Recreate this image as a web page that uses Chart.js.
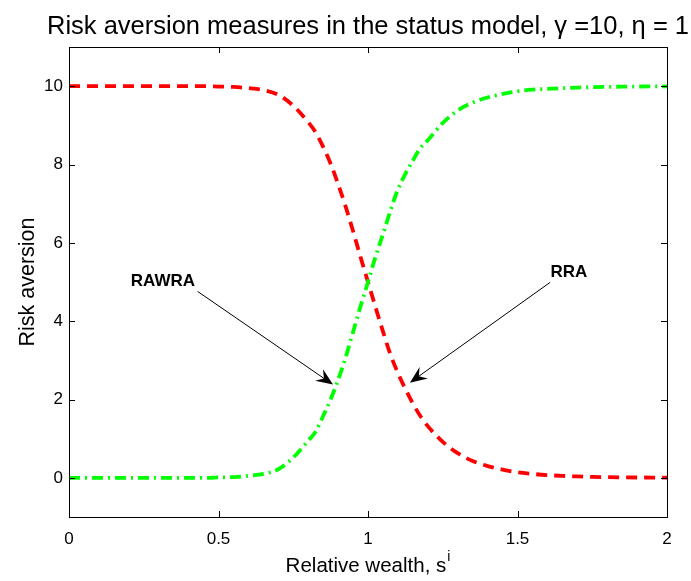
<!DOCTYPE html>
<html>
<head>
<meta charset="utf-8">
<script src="https://cdn.jsdelivr.net/npm/chart.js@4/dist/chart.umd.min.js"></script>
<style>
html,body{margin:0;padding:0;background:#fff;}
#wrap{width:691px;height:581px;}
</style>
</head>
<body>
<div id="wrap"><canvas id="c" width="691" height="581"></canvas></div>
<script>
// ---- data ----
const sValues = [0,0.05,0.1,0.15,0.2,0.25,0.3,0.35,0.4,0.45,0.5,0.55,0.6,0.65,0.7,0.75,0.8,0.825,0.85,0.875,0.9,0.925,0.95,0.975,1.0,1.025,1.05,1.075,1.1,1.125,1.15,1.175,1.2,1.25,1.3,1.35,1.4,1.45,1.5,1.55,1.6,1.65,1.7,1.75,1.8,1.85,1.9,1.95,2.0];
const rraValues = [10,10,10,10,10,10,10,10,10,10,9.99,9.98,9.95,9.90,9.78,9.50,9.08,8.82,8.45,8.02,7.50,6.93,6.30,5.64,5.00,4.36,3.74,3.15,2.68,2.27,1.90,1.58,1.32,0.92,0.63,0.43,0.30,0.21,0.14,0.10,0.07,0.05,0.035,0.025,0.018,0.013,0.009,0.007,0.005];
const rawraValues = [0,0,0,0,0,0,0,0,0,0,0.01,0.02,0.05,0.10,0.22,0.52,0.95,1.18,1.58,2.00,2.50,3.07,3.72,4.38,5.00,5.64,6.22,6.82,7.36,7.76,8.10,8.42,8.62,9.06,9.38,9.58,9.71,9.80,9.87,9.91,9.93,9.95,9.965,9.975,9.982,9.987,9.991,9.993,9.995];
const xTicks = [0,0.5,1,1.5,2];
const xTickLabels = ["0","0.5","1","1.5","2"];
const yTicks = [0,2,4,6,8,10];
const yTickLabels = ["0","2","4","6","8","10"];
const titleText = "Risk aversion measures in the status model, \u03b3 =10, \u03b7 = 1";
const xLabelText = "Relative wealth, s";
const xLabelSup = "i";
const yLabelText = "Risk aversion";
// annotations in data coordinates: label, text position, arrow start, arrow tip
const annLabels = ["RAWRA","RRA"];
const annTextPos = [[0.314,5.03],[1.672,5.24]];
const annArrowFrom = [[0.430,4.76],[1.609,4.99]];
const annArrowTo = [[0.883,2.38],[1.140,2.43]];

const FONT = "'Liberation Sans', Arial, Helvetica, sans-serif";

const framePlugin = {
  id: 'frame',
  afterDraw(chart) {
    const ctx = chart.ctx, a = chart.chartArea;
    const xs = chart.scales.x, ys = chart.scales.y;
    ctx.save();
    // box
    ctx.strokeStyle = '#000';
    ctx.lineWidth = 1;
    ctx.strokeRect(Math.round(a.left)+0.5, Math.round(a.top)+0.5, Math.round(a.right-a.left), Math.round(a.bottom-a.top));
    // inward ticks
    const tl = 6;
    ctx.beginPath();
    xTicks.forEach(v => {
      const px = Math.round(xs.getPixelForValue(v))+0.5;
      ctx.moveTo(px, a.bottom); ctx.lineTo(px, a.bottom - tl);
      ctx.moveTo(px, a.top); ctx.lineTo(px, a.top + tl);
    });
    yTicks.forEach(v => {
      const py = Math.round(ys.getPixelForValue(v))+0.5;
      ctx.moveTo(a.left, py); ctx.lineTo(a.left + tl, py);
      ctx.moveTo(a.right, py); ctx.lineTo(a.right - tl, py);
    });
    ctx.stroke();

    // title
    ctx.fillStyle = '#000';
    ctx.font = '25.5px ' + FONT;
    ctx.textAlign = 'center';
    ctx.textBaseline = 'alphabetic';
    ctx.fillText(titleText, (a.left + a.right)/2, 34);

    // x label with superscript
    const cx = (a.left + a.right)/2;
    ctx.font = '20.5px ' + FONT;
    const w1 = ctx.measureText(xLabelText).width;
    ctx.font = '14px ' + FONT;
    const w2 = ctx.measureText(xLabelSup).width;
    const startX = cx - (w1 + w2 + 1)/2;
    ctx.textAlign = 'left';
    ctx.font = '20.5px ' + FONT;
    ctx.fillText(xLabelText, startX, 572);
    ctx.font = '14px ' + FONT;
    ctx.fillText(xLabelSup, startX + w1 + 1, 561);

    // y label
    ctx.save();
    ctx.translate(34, (a.top + a.bottom)/2);
    ctx.rotate(-Math.PI/2);
    ctx.font = '21.5px ' + FONT;
    ctx.textAlign = 'center';
    ctx.fillText(yLabelText, 0, 0);
    ctx.restore();

    // annotations
    for (let i = 0; i < annLabels.length; i++) {
      const tx = xs.getPixelForValue(annTextPos[i][0]);
      const ty = ys.getPixelForValue(annTextPos[i][1]);
      ctx.font = 'bold 17px ' + FONT;
      ctx.textAlign = 'center';
      ctx.textBaseline = 'middle';
      ctx.fillStyle = '#000';
      ctx.fillText(annLabels[i], tx, ty);
      const x0 = xs.getPixelForValue(annArrowFrom[i][0]);
      const y0 = ys.getPixelForValue(annArrowFrom[i][1]);
      const x1 = xs.getPixelForValue(annArrowTo[i][0]);
      const y1 = ys.getPixelForValue(annArrowTo[i][1]);
      const ang = Math.atan2(y1 - y0, x1 - x0);
      const L = 17, W = 7, notch = 11;
      ctx.lineWidth = 1;
      ctx.strokeStyle = '#000';
      ctx.beginPath();
      ctx.moveTo(x0, y0);
      ctx.lineTo(x1 - notch*Math.cos(ang), y1 - notch*Math.sin(ang));
      ctx.stroke();
      // arrowhead
      const cos = Math.cos(ang), sin = Math.sin(ang);
      const bx = x1 - L*cos, by = y1 - L*sin;
      const nx = -sin, ny = cos;
      ctx.beginPath();
      ctx.moveTo(x1, y1);
      ctx.lineTo(bx + W*nx, by + W*ny);
      ctx.lineTo(x1 - notch*cos, y1 - notch*sin);
      ctx.lineTo(bx - W*nx, by - W*ny);
      ctx.closePath();
      ctx.fill();
    }
    ctx.restore();
  }
};

new Chart(document.getElementById('c'), {
  type: 'line',
  data: {
    datasets: [
      {
        label: 'RAWRA',
        data: sValues.map((s, i) => ({x: s, y: rawraValues[i]})),
        borderColor: '#00ff00',
        borderWidth: 3.8,
        borderDash: [11, 5, 2, 5],
        pointRadius: 0,
        cubicInterpolationMode: 'monotone',
        fill: false,
        order: 0
      },
      {
        label: 'RRA',
        data: sValues.map((s, i) => ({x: s, y: rraValues[i]})),
        borderColor: '#ff0000',
        borderWidth: 3.8,
        borderDash: [11, 7],
        pointRadius: 0,
        cubicInterpolationMode: 'monotone',
        fill: false,
        order: 1
      }
    ]
  },
  options: {
    responsive: false,
    devicePixelRatio: 1,
    animation: false,
    layout: { padding: { left: 0, right: 24, top: 47, bottom: 0 } },
    plugins: { legend: { display: false }, title: { display: false }, tooltip: { enabled: false } },
    scales: {
      x: {
        type: 'linear',
        min: 0, max: 2,
        afterBuildTicks(scale) { scale.ticks = xTicks.map(v => ({value: v})); },
        afterFit(scale) { scale.height = 64; },
        grid: { display: false, drawTicks: false },
        border: { display: false },
        ticks: {
          color: '#000',
          font: { family: FONT, size: 17 },
          padding: 12,
          maxRotation: 0,
          callback(v) { const i = xTicks.indexOf(v); return i >= 0 ? xTickLabels[i] : ''; }
        }
      },
      y: {
        type: 'linear',
        min: -1, max: 11,
        afterBuildTicks(scale) { scale.ticks = yTicks.map(v => ({value: v})); },
        afterFit(scale) { scale.width = 69; },
        grid: { display: false, drawTicks: false },
        border: { display: false },
        ticks: {
          color: '#000',
          font: { family: FONT, size: 17 },
          padding: 6,
          callback(v) { const i = yTicks.indexOf(v); return i >= 0 ? yTickLabels[i] : ''; }
        }
      }
    }
  },
  plugins: [framePlugin]
});
</script>
</body>
</html>
